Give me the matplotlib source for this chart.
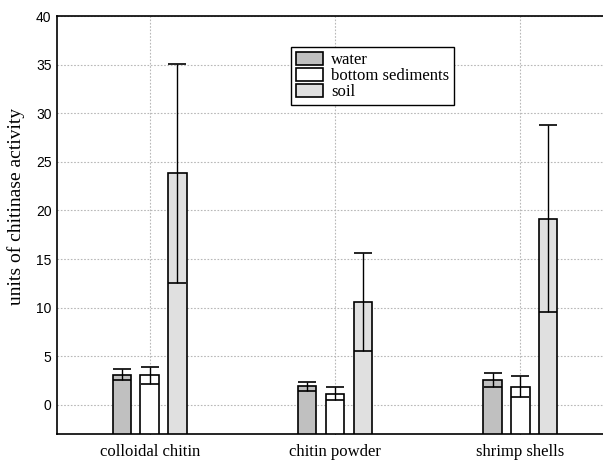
import matplotlib
matplotlib.use("Agg")
import matplotlib.pyplot as plt
import numpy as np

categories = ["colloidal chitin", "chitin powder", "shrimp shells"]
series = ["water", "bottom sediments", "soil"]
means = {
    "water": [3.1, 1.9, 2.57],
    "bottom sediments": [3.05, 1.15, 1.88],
    "soil": [23.8, 10.6, 19.15],
}
errs = {
    "water": [0.55, 0.5, 0.7],
    "bottom sediments": [0.88, 0.65, 1.05],
    "soil": [11.3, 5.05, 9.6],
}
colors = {"water": "#c0c0c0", "bottom sediments": "#ffffff", "soil": "#e0e0e0"}
yticks = [0, 5, 10, 15, 20, 25, 30, 35, 40]

W, H = 603, 461
fig = plt.figure(figsize=(W / 100, H / 100), dpi=100)
left, right, top, bottom = 57, 613, 16, 434
ax = fig.add_axes([left / W, (H - bottom) / H, (right - left) / W, (bottom - top) / H])

x = np.arange(len(categories))
width = 0.1
offsets = [-0.15, 0.0, 0.15]
for s, off in zip(series, offsets):
    ax.bar(x + off, np.array(means[s]) + 3, width=width, bottom=-3, color=colors[s],
           edgecolor="black", linewidth=1.2, label=s, zorder=3)
    ax.errorbar(x + off, means[s], yerr=errs[s], fmt="none", ecolor="black",
                elinewidth=1.0, capsize=6.7, capthick=1.2, zorder=4)

ax.set_xlim(-0.5, 2.5)
ax.set_ylim(-3, 40)
ax.set_yticks(yticks)
ax.set_xticks(x)
ax.set_xticklabels(categories, family="Liberation Serif", fontsize=12)
for lab in ax.get_yticklabels():
    lab.set_family("Liberation Sans")
    lab.set_fontsize(10)
ax.tick_params(axis="x", direction="in", length=3, pad=7)
ax.tick_params(axis="y", direction="out", length=0, pad=4)
ax.grid(True, color="#b8b8b8", linestyle=(0, (1.5, 1.5)), linewidth=0.8, zorder=0)
ax.set_axisbelow(True)
for sp in ax.spines.values():
    sp.set_linewidth(1.2)
ax.set_ylabel("units of chitinase activity", family="Liberation Serif", fontsize=14)
ax.yaxis.set_label_coords(-0.058, 0.545)

leg = ax.legend(loc="upper left", bbox_to_anchor=((291 - left) / (right - left), 1 - (47 - top) / (bottom - top)),
                prop={"family": "Liberation Serif", "size": 12}, frameon=True, fancybox=False,
                edgecolor="black", framealpha=1, borderpad=0.3, labelspacing=0.0,
                handlelength=1.6, handleheight=0.8, handletextpad=0.5, borderaxespad=0)
leg.get_frame().set_linewidth(1.0)

fig.savefig("out.png", dpi=100)
